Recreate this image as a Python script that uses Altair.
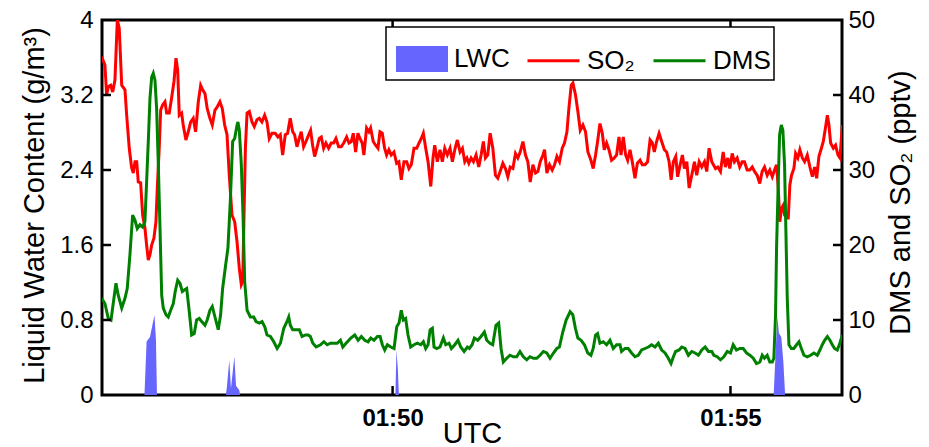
import altair as alt
import pandas as pd

# ---- data (time = seconds after 01:45:00 UTC) ----
so2_t = [41.7, 44.6, 46.1, 47.6, 49.7, 51.5, 53.5, 55.6, 57.3, 59.5,
         62.4, 63.9, 66.2, 68.3, 69.8, 71.3, 72.8, 74.2, 76.3, 78.1,
         80.1, 81.6, 83.1, 84.6, 86.1, 88.1, 89.9, 91.1, 92.8, 94.1,
         95.9, 97.9, 99.4, 101.7, 103.8, 105.9, 107.7, 109.2, 110.6, 112.7,
         114.1, 116.5, 118.6, 120.7, 123.0, 125.1, 127.5, 129.6, 131.4, 133.4,
         135.4, 137.8, 139.9, 142.3, 144.3, 146.7, 148.8, 150.9, 153.0, 155.0,
         157.4, 159.8, 161.9, 163.9, 165.7, 166.9, 168.1, 169.3, 170.8, 172.8,
         175.2, 177.2, 179.6, 181.6, 184.0, 186.4, 188.5, 190.5, 192.9, 195.8,
         198.2, 200.3, 202.4, 204.7, 206.8, 209.1, 211.3, 213.0, 215.1, 217.1,
         218.9, 221.0, 223.1, 225.5, 227.2, 229.0, 230.8, 232.8, 234.9, 236.7,
         238.8, 240.8, 243.2, 245.5, 247.7, 249.7, 252.1, 254.4, 256.6, 259.2,
         261.3, 263.3, 265.1, 267.2, 269.2, 271.0, 273.0, 274.5, 276.9, 279.0,
         280.5, 282.8, 284.9, 287.0, 288.8, 290.8, 292.9, 294.7, 296.7, 298.8,
         301.2, 303.6, 305.6, 307.7, 310.1, 312.5, 314.5, 316.6, 319.0, 321.4,
         323.5, 325.5, 327.3, 329.4, 331.5, 333.9, 335.9, 337.4, 339.7, 342.1,
         344.2, 346.3, 348.6, 351.0, 353.1, 355.5, 357.5, 359.9, 362.0, 364.1,
         366.0, 367.7, 369.7, 371.8, 374.1, 376.5, 378.6, 380.6, 382.4, 384.5,
         386.6, 389.0, 391.3, 393.4, 395.5, 397.9, 400.2, 402.3, 404.4, 406.8,
         409.1, 411.2, 413.3, 415.7, 418.0, 420.1, 422.2, 424.6, 426.9, 429.0,
         431.1, 433.5, 434.9, 437.0, 439.3, 441.7, 443.8, 445.9, 448.2, 450.6,
         452.6, 454.8, 456.5, 458.6, 460.1, 462.4, 464.5, 466.6, 469.0, 471.3,
         473.4, 476.1, 478.1, 480.2, 482.0, 484.1, 486.2, 487.9, 490.0, 492.1,
         494.4, 496.8, 498.9, 501.0, 502.8, 504.8, 506.9, 508.7, 510.8, 512.8,
         515.2, 517.3, 519.7, 521.7, 524.1, 526.4, 528.6, 530.6, 532.4, 534.4,
         536.6, 538.9, 541.3, 543.3, 545.5, 547.3, 549.3, 551.4, 553.1, 555.3,
         557.3, 559.1, 561.2, 563.3, 565.6, 568.0, 570.0, 572.2, 574.5, 576.9,
         578.9, 581.0, 583.4, 586.7, 588.7, 591.1, 593.5, 595.5, 597.6, 599.4,
         601.5, 603.5, 605.9, 608.2, 610.4, 612.4, 614.8, 617.1, 619.3, 621.3,
         623.7, 626.0, 628.1, 630.2, 632.6, 634.9, 637.1, 639.1, 640.9, 642.4,
         643.8, 645.3, 646.8, 648.0, 649.8, 651.3, 652.7, 654.2, 656.3, 657.8,
         659.8, 661.6, 663.8, 665.8, 668.2, 670.5, 672.7, 674.7, 676.5, 678.5,
         680.7, 682.4, 684.5, 686.0, 687.4, 688.9, 691.3, 693.3, 695.4, 697.2,
         699.3]
so2_v = [45.1, 44.0, 40.0, 41.1, 41.3, 40.4, 42.0, 50.0, 48.9, 41.3,
         40.7, 37.3, 32.9, 30.3, 29.6, 31.1, 31.1, 28.4, 28.3, 24.0,
         22.3, 20.0, 18.0, 18.7, 20.0, 20.9, 23.1, 27.6, 32.9, 38.0,
         38.7, 39.1, 37.6, 37.6, 39.6, 41.8, 44.9, 43.3, 37.3, 37.6,
         36.0, 34.0, 35.1, 36.4, 36.9, 35.1, 39.1, 41.3, 40.7, 40.2,
         38.2, 36.9, 36.0, 38.0, 38.4, 39.1, 38.2, 36.0, 34.7, 29.3,
         24.0, 23.1, 20.4, 16.9, 14.7, 15.1, 24.0, 32.9, 37.6, 37.8,
         36.4, 35.8, 36.7, 36.9, 36.4, 37.3, 36.4, 34.2, 34.9, 34.9,
         34.4, 34.7, 32.0, 34.7, 34.9, 36.9, 35.1, 34.7, 33.1, 34.2,
         35.1, 33.1, 33.8, 34.7, 35.3, 33.3, 31.8, 32.9, 34.2, 34.4,
         32.9, 33.6, 32.9, 33.6, 33.6, 34.2, 33.1, 33.1, 33.6, 34.4,
         33.6, 33.8, 34.9, 32.4, 34.9, 34.2, 33.6, 32.0, 35.6, 35.1,
         35.6, 33.8, 33.3, 32.9, 35.1, 34.9, 32.9, 32.0, 32.7, 32.0,
         32.4, 30.9, 31.1, 28.7, 31.1, 31.1, 30.2, 30.7, 32.9, 32.9,
         33.6, 34.2, 34.9, 32.9, 31.1, 27.8, 31.6, 33.3, 31.1, 32.7,
         31.1, 32.9, 32.0, 32.9, 31.1, 32.9, 34.0, 32.4, 32.9, 31.1,
         31.6, 30.9, 31.6, 31.1, 32.0, 30.4, 32.0, 33.8, 31.6, 32.0,
         34.9, 32.9, 29.3, 28.9, 29.8, 30.9, 30.2, 29.1, 30.4, 30.2,
         32.2, 31.6, 32.4, 33.8, 32.0, 31.1, 28.4, 30.7, 29.6, 29.8,
         31.1, 32.0, 32.7, 29.6, 30.7, 30.0, 30.7, 31.8, 31.1, 32.9,
         33.6, 35.1, 38.2, 41.3, 41.6, 40.0, 37.8, 35.3, 36.0, 35.1,
         32.4, 31.3, 30.2, 32.0, 33.8, 36.2, 34.9, 32.7, 33.6, 32.7,
         31.3, 31.6, 32.0, 34.4, 32.0, 34.4, 32.0, 31.3, 32.7, 31.1,
         28.9, 30.9, 31.3, 30.7, 30.7, 31.1, 34.0, 33.6, 32.4, 33.8,
         34.9, 33.8, 32.7, 32.4, 31.1, 28.7, 31.1, 31.8, 29.1, 30.7,
         32.0, 30.2, 31.1, 27.6, 29.3, 31.1, 29.3, 31.1, 30.4, 31.1,
         29.8, 32.9, 31.1, 30.2, 30.4, 29.8, 32.4, 30.4, 31.6, 30.2,
         32.2, 31.1, 31.6, 30.4, 31.1, 31.1, 30.0, 30.0, 30.4, 29.8,
         29.3, 28.2, 29.8, 30.4, 29.3, 30.0, 29.1, 30.0, 30.7, 27.6,
         23.1, 24.9, 25.3, 24.0, 23.6, 23.6, 28.0, 29.3, 30.2, 32.2,
         31.6, 32.7, 31.6, 31.1, 32.0, 30.4, 29.1, 30.4, 28.9, 31.8,
         32.9, 33.8, 35.8, 37.3, 36.0, 33.6, 32.9, 33.3, 32.0, 31.6,
         36.0]

dms_t = [41.7, 44.6, 47.6, 50.0, 52.6, 54.4, 56.4, 59.5, 62.4, 64.4,
         66.8, 69.2, 71.3, 73.3, 75.7, 78.1, 80.1, 81.6, 83.1, 84.6,
         86.1, 87.5, 89.0, 90.5, 92.0, 93.5, 95.0, 96.4, 98.8, 100.8,
         103.0, 105.3, 107.0, 109.2, 111.2, 113.3, 115.0, 117.2, 119.5, 121.6,
         123.9, 126.0, 128.3, 130.5, 133.4, 135.4, 137.8, 139.9, 142.3, 145.2,
         147.3, 149.1, 151.4, 153.8, 155.9, 158.0, 159.8, 161.9, 162.7, 163.9,
         165.7, 167.2, 168.7, 170.8, 173.7, 176.7, 178.8, 181.7, 184.1, 186.5,
         188.5, 191.5, 194.5, 197.5, 200.4, 203.4, 206.3, 207.8, 209.2, 211.3,
         214.3, 217.2, 219.6, 222.6, 225.0, 227.0, 229.2, 232.1, 236.0, 239.0,
         241.9, 244.8, 247.8, 250.8, 253.7, 255.8, 258.7, 262.9, 266.4, 269.4,
         272.3, 275.3, 278.2, 280.6, 283.5, 286.5, 288.9, 290.9, 293.0, 295.4,
         298.4, 301.3, 303.7, 305.7, 307.7, 309.5, 311.6, 313.7, 316.1, 319.0,
         322.0, 325.0, 327.3, 329.4, 331.5, 333.3, 335.3, 336.8, 339.2, 342.1,
         345.1, 347.2, 350.1, 352.2, 355.2, 358.1, 360.5, 363.5, 366.4, 368.2,
         370.6, 372.6, 375.6, 378.5, 381.5, 383.6, 386.5, 388.9, 391.8, 394.2,
         396.3, 398.3, 401.3, 404.2, 407.2, 410.2, 413.1, 416.1, 419.1, 422.0,
         425.0, 428.0, 430.9, 433.9, 436.9, 439.8, 442.8, 445.8, 448.1, 451.1,
         454.1, 457.6, 460.0, 462.3, 464.5, 467.4, 470.3, 473.3, 476.1, 478.1,
         480.2, 482.0, 484.1, 487.0, 490.0, 493.0, 495.9, 498.9, 501.9, 503.3,
         506.3, 509.2, 512.2, 515.2, 518.1, 521.1, 524.1, 527.1, 530.0, 533.0,
         535.9, 538.9, 541.9, 544.8, 547.2, 549.3, 551.3, 554.4, 556.7, 559.7,
         562.6, 565.6, 568.6, 571.5, 574.5, 577.5, 580.4, 583.4, 585.2, 588.2,
         591.1, 594.1, 597.1, 600.0, 602.4, 605.3, 608.3, 611.3, 614.2, 617.2,
         620.2, 623.1, 626.1, 628.2, 630.2, 632.6, 634.9, 637.1, 638.5, 640.0,
         640.9, 642.4, 643.6, 645.1, 646.5, 648.0, 649.2, 650.4, 651.9, 654.0,
         656.3, 658.7, 660.8, 662.9, 665.2, 668.2, 671.1, 674.1, 677.1, 679.4,
         681.5, 683.6, 686.0, 688.3, 690.4, 692.4, 694.8, 697.1, 699.3]
dms_v = [12.9, 12.2, 10.2, 10.0, 12.9, 14.9, 13.3, 11.6, 12.9, 14.2,
         18.7, 24.0, 23.3, 22.2, 22.7, 22.4, 23.1, 28.4, 33.8, 39.6,
         42.4, 42.9, 42.0, 38.2, 30.7, 22.2, 13.3, 11.6, 10.7, 10.4,
         11.3, 12.2, 13.8, 15.3, 14.9, 13.8, 14.0, 14.2, 11.1, 8.0,
         8.2, 10.0, 10.2, 9.8, 9.3, 10.0, 11.3, 11.8, 10.4, 8.7,
         10.7, 14.2, 16.9, 19.6, 25.8, 33.8, 34.2, 36.0, 36.4, 35.3,
         30.7, 24.0, 15.1, 11.3, 10.4, 10.4, 9.8, 9.6, 9.8, 9.1,
         8.0, 7.8, 7.1, 6.2, 6.9, 8.9, 9.8, 10.4, 9.3, 8.7,
         8.7, 8.7, 7.8, 8.0, 8.0, 7.8, 6.9, 6.4, 6.7, 7.1,
         6.7, 6.9, 6.9, 6.9, 7.3, 6.4, 6.9, 7.6, 8.0, 7.3,
         7.8, 7.3, 7.1, 7.6, 7.3, 7.8, 7.8, 6.7, 6.0, 6.7,
         6.4, 6.2, 9.1, 9.6, 11.3, 10.0, 10.2, 8.0, 6.4, 6.7,
         6.9, 6.7, 7.1, 6.2, 6.7, 8.7, 8.9, 6.4, 6.2, 6.4,
         7.6, 6.7, 6.9, 6.2, 6.7, 7.3, 6.4, 5.8, 6.4, 6.2,
         6.7, 7.6, 7.3, 7.8, 8.4, 7.3, 6.9, 6.7, 9.3, 9.6,
         6.2, 4.4, 4.9, 5.3, 5.1, 5.1, 5.8, 5.1, 4.7, 5.1,
         4.9, 4.9, 5.3, 5.8, 5.6, 4.9, 5.6, 6.2, 6.4, 8.4,
         10.0, 11.1, 10.7, 8.9, 7.6, 7.3, 6.7, 5.6, 5.3, 6.2,
         8.0, 8.2, 6.9, 7.1, 6.7, 7.3, 6.2, 6.7, 6.7, 5.8,
         6.2, 6.2, 5.6, 5.1, 5.3, 6.0, 6.2, 6.4, 6.7, 6.4,
         6.9, 6.0, 5.6, 4.9, 4.2, 5.1, 5.8, 6.0, 6.4, 6.2,
         5.3, 5.8, 5.6, 5.3, 6.0, 6.4, 5.8, 5.8, 5.3, 5.1,
         4.7, 5.1, 5.8, 5.6, 6.7, 6.0, 6.2, 6.2, 5.6, 5.3,
         4.9, 4.2, 4.4, 5.3, 4.9, 5.3, 4.4, 4.4, 4.9, 10.7,
         19.6, 28.4, 34.7, 36.0, 35.3, 30.7, 21.8, 12.9, 6.7, 6.2,
         6.2, 6.7, 7.1, 6.2, 5.3, 5.1, 5.3, 5.6, 5.3, 6.0,
         6.7, 7.3, 7.8, 7.3, 6.7, 6.2, 6.0, 6.9, 8.0]

lwc_t = [42.0, 79.7, 81.6, 84.6, 87.3, 88.6, 89.9, 90.8,
         152.0, 153.0, 155.0, 156.5, 159.5, 161.0, 163.9, 164.6,
         302.5, 303.4, 304.7, 305.6,
         638.3, 641.6, 643.0, 645.1, 646.9, 648.5, 699.0]
lwc_v = [0.0, 0.0, 0.57, 0.62, 0.78, 0.85, 0.59, 0.0,
         0.0, 0.10, 0.37, 0.07, 0.41, 0.10, 0.05, 0.0,
         0.0, 0.48, 0.27, 0.0,
         0.0, 0.84, 0.66, 0.62, 0.36, 0.0, 0.0]

area_names = ["LWC"]
area_colors = ["#6666ff"]
line_names = ["SO2", "DMS"]
line_colors = ["#ff0000", "#008000"]
lwc_ticks = [0, 0.8, 1.6, 2.4, 3.2, 4]
ppt_ticks = [0, 10, 20, 30, 40, 50]
time_ticks = [300, 600]

FONT = "Liberation Sans, Arial, Helvetica, sans-serif"
W, H = 740, 375

lwc_df = pd.DataFrame({"t": lwc_t, "value": lwc_v, "series": "LWC"})
lines_df = pd.concat([
    pd.DataFrame({"t": so2_t, "value": so2_v, "series": "SO2"}),
    pd.DataFrame({"t": dms_t, "value": dms_v, "series": "DMS"}),
], ignore_index=True)

x_enc = alt.X(
    "t:Q",
    scale=alt.Scale(domain=[42, 699], nice=False, zero=False),
    axis=alt.Axis(
        values=time_ticks,
        labelExpr="'01:' + (45 + datum.value / 60)",
        title="UTC", titleFontSize=29, titleFontWeight="normal",
        titleY=47, titleBaseline="alphabetic",
        labelFont=FONT, titleFont=FONT,
        labelFontSize=24, labelFontWeight="bold", labelPadding=11,
        ticks=False, tickSize=0, domain=False, grid=False,
    ),
)

legend_common = dict(
    title=None, orient="none", direction="horizontal",
    labelFont=FONT, labelFontSize=26, labelColor="black",
    symbolSize=2704, labelOffset=6, padding=0,
)

fill_enc = alt.Fill(
    "series:N",
    scale=alt.Scale(domain=area_names, range=area_colors),
    legend=alt.Legend(legendX=294, legendY=13,
                      symbolType="M-1,-0.5H1V0.5H-1Z", symbolOpacity=1,
                      symbolStrokeWidth=0, **legend_common),
)

stroke_enc = alt.Stroke(
    "series:N",
    scale=alt.Scale(domain=line_names, range=line_colors),
    legend=alt.Legend(legendX=424, legendY=13, columns=2,
                      symbolType="stroke", symbolStrokeWidth=3,
                      columnPadding=12,
                      labelExpr="datum.label === 'SO2' ? 'SO₂' : datum.label",
                      **legend_common),
)

area = alt.Chart(lwc_df).mark_area(clip=True, opacity=1, interpolate="linear").encode(
    x=x_enc,
    y=alt.Y("value:Q", scale=alt.Scale(domain=[0, 4], nice=False),
            axis=alt.Axis(orient="left", values=lwc_ticks, format="~g",
                          title="Liquid Water Content (g/m³)", titleFontSize=29,
                          titleFontWeight="normal", titleAngle=270,
                          titleX=-59, titleY=185, titleBaseline="alphabetic",
                          labelFontSize=24, labelPadding=9,
                          ticks=False, tickSize=0, domain=False, grid=False)),
    fill=fill_enc,
)

lines = alt.Chart(lines_df).mark_line(clip=True, strokeWidth=3).encode(
    x=x_enc,
    y=alt.Y("value:Q", scale=alt.Scale(domain=[0, 50], nice=False),
            axis=alt.Axis(orient="right", values=ppt_ticks,
                          title="DMS and SO₂ (pptv)", titleFontSize=29,
                          titleFontWeight="normal", titleAngle=270,
                          titleX=67, titleY=182, titleBaseline="alphabetic",
                          labelFontSize=24, labelPadding=6,
                          ticks=False, tickSize=0, domain=False, grid=False)),
    stroke=stroke_enc,
)

# legend frame (white box with black border behind the two legends)
legend_box = alt.Chart(pd.DataFrame({"k": [0]})).mark_rect(
    fill="white", stroke="black", strokeWidth=1.5).encode(
    x=alt.value(284), x2=alt.value(672), y=alt.value(7), y2=alt.value(60))

left_ticks = alt.Chart(pd.DataFrame({"v": lwc_ticks[1:-1]})).mark_rule(
    color="black", strokeWidth=2.5).encode(
    y=alt.Y("v:Q", scale=alt.Scale(domain=[0, 4], nice=False), axis=None),
    x=alt.value(0), x2=alt.value(9))

right_ticks = alt.Chart(pd.DataFrame({"v": ppt_ticks[1:-1]})).mark_rule(
    color="black", strokeWidth=2.5).encode(
    y=alt.Y("v:Q", scale=alt.Scale(domain=[0, 50], nice=False), axis=None),
    x=alt.value(W - 9), x2=alt.value(W))

bottom_ticks = alt.Chart(pd.DataFrame({"t": time_ticks})).mark_rule(
    color="black", strokeWidth=2.5).encode(
    x=x_enc, y=alt.value(H - 9), y2=alt.value(H))

top_ticks = alt.Chart(pd.DataFrame({"t": time_ticks})).mark_rule(
    color="black", strokeWidth=2.5).encode(
    x=x_enc, y=alt.value(0), y2=alt.value(9))

chart = alt.layer(
    area, lines, left_ticks, right_ticks, bottom_ticks, top_ticks, legend_box
).resolve_scale(y="independent").properties(
    width=W, height=H,
    autosize=alt.AutoSizeParams(type="none"),
    padding={"left": 102, "top": 20, "right": 87, "bottom": 52},
    background="white",
).configure_view(
    stroke="black", strokeWidth=3
).configure_axis(
    labelFont=FONT, titleFont=FONT, labelColor="black", titleColor="black",
).configure_legend(
    labelFont=FONT,
)

chart.save("out.html", embed_options={"renderer": "svg", "actions": False})
